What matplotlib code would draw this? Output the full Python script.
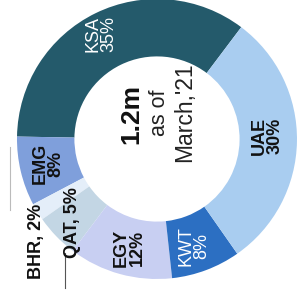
import matplotlib.pyplot as plt
import numpy as np

plt.rcParams['font.family'] = ['Liberation Sans', 'DejaVu Sans']

# market split, counter-clockwise from KSA
regions = ['KSA', 'EMG', 'BHR', 'QAT', 'EGY', 'KWT', 'UAE']
shares = [35, 8, 2, 5, 12, 8, 30]
labels = ['KSA\n35%', 'EMG\n8%', 'BHR, 2%', 'QAT, 5%', 'EGY\n12%', 'KWT\n8%', 'UAE\n30%']
colors = ['#245a6b', '#7f9fdb', '#e4eef9', '#c3d6e4', '#c8cff2', '#2c6fc2', '#a9cdf0']
text_colors = ['white', '#111111', '#111111', '#111111', '#111111', 'white', '#111111']
bold = [False, True, True, True, True, False, True]
label_r = [0.85, 0.80, 1.13, 0.85, 0.80, 0.81, 0.79]
label_shift = [2, -0.6, 9, 0.6, 1, -1.6, 2.5]  # deg offsets from wedge middle

fig = plt.figure(figsize=(2.98, 3.0), dpi=100)
ax = fig.add_axes([0.057, 0.07, 0.9396, 0.9333])

wedges, _ = ax.pie(shares, colors=colors, startangle=53, counterclock=True,
                   radius=1.0, wedgeprops=dict(width=0.41, linewidth=0))

for w, lab, tc, b, r, sh in zip(wedges, labels, text_colors, bold, label_r, label_shift):
    mid = np.deg2rad((w.theta1 + w.theta2) / 2 + sh)
    ax.text(r * np.cos(mid), r * np.sin(mid), lab, rotation=90,
            ha='center', va='center', color=tc, fontsize=13,
            fontweight='bold' if b else 'normal', linespacing=0.9)

# centre caption
ax.text(-0.18, 0.18, '1.2m', rotation=90, ha='center', va='center',
        fontsize=19, fontweight='bold', color='#111111')
ax.text(0.015, 0.19, 'as of', rotation=90, ha='center', va='center',
        fontsize=15.5, color='#222222')
ax.text(0.2, 0.19, "March,'21", rotation=90, ha='center', va='center',
        fontsize=16.5, color='#222222')

# leader lines
ax.plot([-0.657, -0.657], [-0.814, -1.064], color='#555555', lw=0.8, clip_on=False)
ax.plot([-1.05, -1.05], [-0.057, -0.507], color='#bbbbbb', lw=0.8, clip_on=False)

ax.set_xlim(-1, 1)
ax.set_ylim(-1, 1)
ax.set_aspect('equal')
ax.axis('off')

fig.savefig('out.png', dpi=100)
